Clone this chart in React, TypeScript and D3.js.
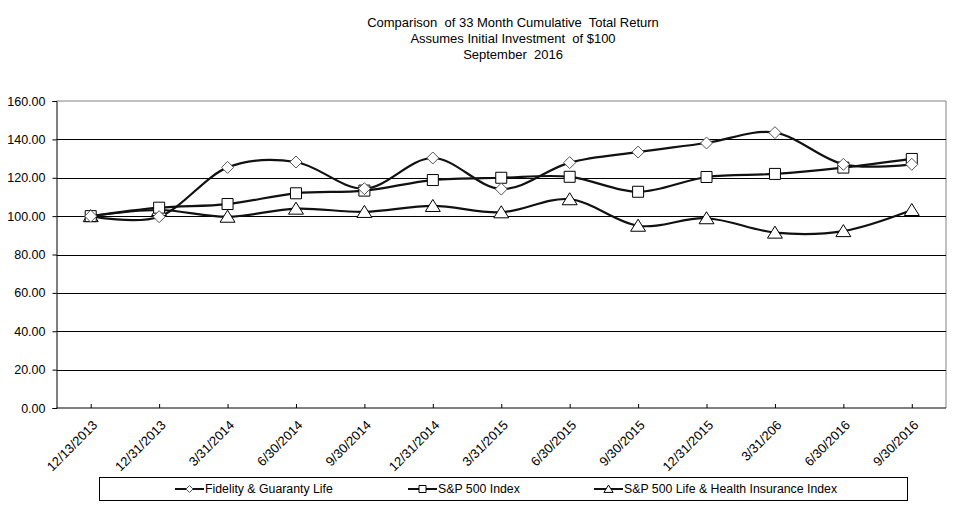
import React, { useEffect, useRef } from "react";
import * as d3 from "d3";

const dates = [
  "12/13/2013", "12/31/2013", "3/31/2014", "6/30/2014", "9/30/2014", "12/31/2014",
  "3/31/2015", "6/30/2015", "9/30/2015", "12/31/2015", "3/31/206", "6/30/2016", "9/30/2016",
];
const fidelity = [100, 99.7, 125.4, 128.2, 114.3, 130.3, 114.1, 127.9, 133.4, 138.1, 143.5, 127.0, 127.0];
const sp500 = [100, 104.4, 106.3, 111.9, 113.3, 118.8, 120.0, 120.5, 112.7, 120.4, 122.0, 125.3, 129.8];
const lifeHealth = [100, 103.2, 99.7, 103.9, 102.2, 105.3, 102.0, 108.8, 95.0, 98.9, 91.4, 92.2, 103.2];
const yTicks = [0, 20, 40, 60, 80, 100, 120, 140, 160];
const titleLines = [
  "Comparison  of 33 Month Cumulative  Total Return",
  "Assumes Initial Investment  of $100",
  "September  2016",
];
const seriesNames = ["Fidelity & Guaranty Life", "S&P 500 Index", "S&P 500 Life & Health Insurance Index"];

const W = 959;
const H = 507;
const FONT = "Arial, 'Liberation Sans', sans-serif";

export default function App() {
  const ref = useRef<SVGSVGElement>(null);

  useEffect(() => {
    document.body.style.margin = "0";
    const svg = d3.select(ref.current);
    svg.selectAll("*").remove();

    const left = 56.5, right = 946, top = 101, bottom = 408;

    const x = d3.scalePoint<string>().domain(dates).range([left, right]).padding(0.5);
    const y = d3.scaleLinear().domain([0, 160]).range([bottom, top]);

    svg.append("rect").attr("width", W).attr("height", H).attr("fill", "#fff");

    // title
    titleLines.forEach((t, i) => {
      svg.append("text")
        .attr("x", 513).attr("y", 27 + i * 16)
        .attr("text-anchor", "middle")
        .style("font-family", FONT).style("font-size", "13px")
        .style("white-space", "pre")
        .text(t);
    });

    // plot border (top/right gray)
    svg.append("path")
      .attr("d", `M${left},${top}H${right}V${bottom}`)
      .attr("fill", "none").attr("stroke", "#808080").attr("stroke-width", 1);

    // gridlines
    yTicks.filter((v) => v > 0 && v < 160).forEach((v) => {
      svg.append("line")
        .attr("x1", left).attr("x2", right)
        .attr("y1", Math.round(y(v)) + 0.5).attr("y2", Math.round(y(v)) + 0.5)
        .attr("stroke", "#000").attr("stroke-width", 1);
    });

    // y axis
    const yAxis = svg.append("g")
      .attr("transform", `translate(${left},0)`)
      .call(d3.axisLeft(y).tickValues(yTicks).tickSize(4).tickFormat((d) => d3.format(".2f")(d as number)));
    yAxis.select(".domain").attr("stroke", "#000");
    yAxis.selectAll("line").attr("stroke", "#000");
    yAxis.selectAll("text")
      .attr("x", -11)
      .style("font-family", FONT).style("font-size", "12.5px").attr("fill", "#000");

    // x axis
    const xAxis = svg.append("g")
      .attr("transform", `translate(0,${bottom})`)
      .call(d3.axisBottom(x).tickSize(-4).tickSizeOuter(0));
    xAxis.select(".domain").attr("stroke", "#000").attr("d", `M${left},0H${right}`);
    xAxis.selectAll("line").attr("stroke", "#000");
    xAxis.selectAll("text")
      .attr("y", 0).attr("dy", 0)
      .attr("text-anchor", "end")
      .attr("transform", "translate(7,18) rotate(-45)")
      .style("font-family", FONT).style("font-size", "13px").attr("fill", "#000");

    const line = d3.line<number>()
      .x((_, i) => x(dates[i])!)
      .y((d) => y(d))
      .curve(d3.curveCatmullRom.alpha(0));

    const series = [lifeHealth, sp500, fidelity];
    series.forEach((s) => {
      svg.append("path").datum(s).attr("d", line)
        .attr("fill", "none").attr("stroke", "#111").attr("stroke-width", 2.2);
    });

    const diamond = (cx: number, cy: number, r: number) =>
      `M${cx},${cy - r}L${cx + r},${cy}L${cx},${cy + r}L${cx - r},${cy}Z`;
    const square = (cx: number, cy: number, r: number) =>
      `M${cx - r},${cy - r}H${cx + r}V${cy + r}H${cx - r}Z`;
    const triangle = (cx: number, cy: number, r: number) =>
      `M${cx},${cy - r}L${cx + r * 1.15},${cy + r * 0.85}H${cx - r * 1.15}Z`;

    const markerFns = [diamond, square, triangle];
    const markerColors = ["#555", "#000", "#000"];
    const markerSizes = [6, 5.5, 6.5];
    const ordered = [fidelity, sp500, lifeHealth];

    [2, 1, 0].forEach((k) => {
      svg.append("g").selectAll("path").data(ordered[k]).enter().append("path")
        .attr("d", (d, i) => markerFns[k](x(dates[i])!, y(d), markerSizes[k]))
        .attr("fill", "#fff").attr("stroke", markerColors[k]).attr("stroke-width", 1);
    });

    // legend
    svg.append("rect")
      .attr("x", 99.5).attr("y", 477.5).attr("width", 808).attr("height", 23)
      .attr("fill", "#fff").attr("stroke", "#000").attr("stroke-width", 1);
    const legendX = [175, 408, 594];
    seriesNames.forEach((name, k) => {
      const lx = legendX[k];
      svg.append("line")
        .attr("x1", lx).attr("x2", lx + 29).attr("y1", 489).attr("y2", 489)
        .attr("stroke", "#111").attr("stroke-width", 2);
      svg.append("path")
        .attr("d", markerFns[k](lx + 14.5, 489, k === 2 ? 4 : 3.5))
        .attr("fill", "#fff").attr("stroke", markerColors[k]).attr("stroke-width", 1);
      svg.append("text")
        .attr("x", lx + 30).attr("y", 493)
        .style("font-family", FONT).style("font-size", "12.3px")
        .text(name);
    });
  }, []);

  return <svg ref={ref} width={W} height={H} style={{ display: "block" }} />;
}
